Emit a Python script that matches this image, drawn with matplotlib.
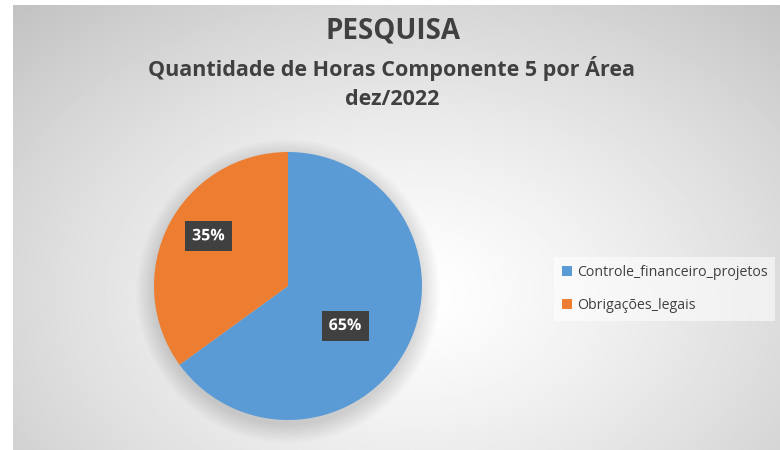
import numpy as np
import matplotlib.pyplot as plt
from matplotlib import patheffects

# dados
areas = ['Controle_financeiro_projetos', 'Obrigações_legais']
percentuais = [65, 35]
cores = ['#5b9bd5', '#ed7d31']
titulo = 'PESQUISA'
subtitulo = 'Quantidade de Horas Componente 5 por Área\ndez/2022'

plt.rcParams['font.family'] = ['Open Sans', 'DejaVu Sans']

W, H = 780, 450
fig = plt.figure(figsize=(W / 100, H / 100), dpi=100, facecolor='white')

# fundo com gradiente radial
bg = fig.add_axes([13 / W, 0, 1 - 13 / W, 445 / H])
bg.set_axis_off()
yy, xx = np.mgrid[0:1:300j, 0:1:500j]
d = np.sqrt(((xx - 0.52) / 0.75) ** 2 + ((yy - 0.35) / 0.9) ** 2)
g = 1.0 - 0.24 * np.clip(d, 0, 1) ** 1.3
bg.imshow(g, cmap='gray', vmin=0, vmax=1, extent=[0, 1, 0, 1], aspect='auto', origin='lower')
bg.set_xlim(0, 1)
bg.set_ylim(0, 1)

# pizza
cx, cy, r = 288, 286, 134
ax = fig.add_axes([(cx - r) / W, (H - cy - r) / H, 2 * r / W, 2 * r / H])
ax.set_axis_off()

# sombra suave
for k in range(12):
    sh = plt.Circle((0.0, -0.04), 1.0 + 0.012 * k, color='black', alpha=0.012, lw=0, zorder=0,
                    clip_on=False)
    ax.add_patch(sh)

wedges, texts, autotexts = ax.pie(percentuais, colors=cores, startangle=90, counterclock=False,
                                  autopct='%1.0f%%', pctdistance=0.6,
                                  wedgeprops=dict(linewidth=0),
                                  textprops=dict(color='white', fontsize=11.5, fontweight='bold'))
ax.set_xlim(-1, 1)
ax.set_ylim(-1, 1)
ax.set_aspect('equal')
# afinar posicao das etiquetas
dist = [0.52, 0.70]
angs = [-35, 148]
for t, dd, a in zip(autotexts, dist, angs):
    t.set_position((dd * np.cos(np.radians(a)), dd * np.sin(np.radians(a))))
    t.set_bbox(dict(boxstyle='square,pad=0.45', facecolor='#404040', edgecolor='none'))
    t.set_path_effects([patheffects.Normal()])

# titulos
fig.text(393 / W, 1 - 31 / H, titulo, ha='center', va='center', fontsize=20, fontweight='bold', color='#404040')
fig.text(392 / W, 1 - 83 / H, subtitulo, ha='center', va='center', fontsize=15.5, fontweight='bold',
         color='#404040', linespacing=1.45)

# legenda
leg = fig.legend(wedges, areas, loc='center left', bbox_to_anchor=(554 / W, 1 - 289 / H),
                 frameon=True, fontsize=10.2, handlelength=0.75, handleheight=0.75, handletextpad=0.3,
                 labelspacing=1.25, borderpad=0.55, borderaxespad=0, fancybox=False, labelcolor='#404040')
leg.get_frame().set_facecolor('white')
leg.get_frame().set_alpha(0.55)
leg.get_frame().set_edgecolor('none')

fig.savefig('out.png', dpi=100, facecolor='white')
